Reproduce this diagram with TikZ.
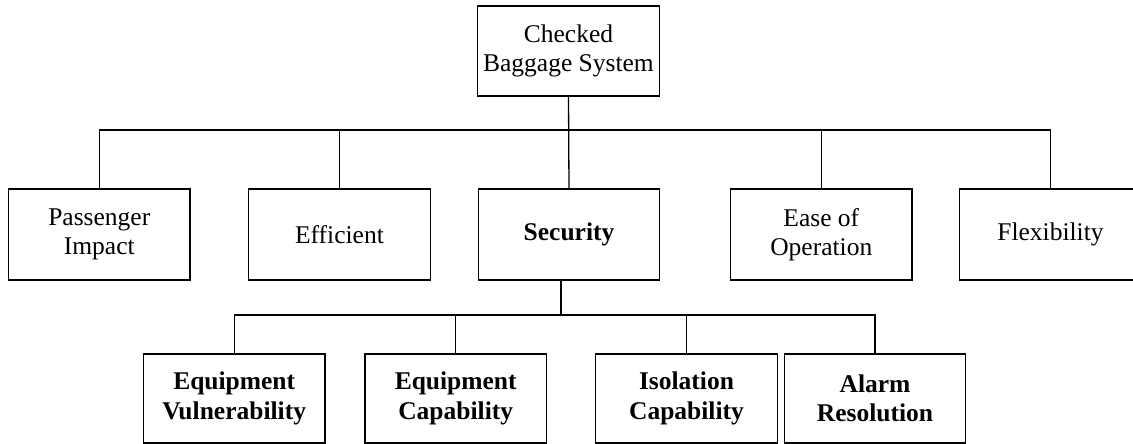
\documentclass[tikz,border=0pt]{standalone}
\usepackage{fontspec}
\setmainfont{Liberation Serif}
\begin{document}
\begin{tikzpicture}[x=1pt,y=-1pt,
  box/.style={draw,line width=1.3pt,rectangle,inner sep=0pt,align=center,
    minimum width=181.5pt,font=\fontsize{25.5}{29.3}\selectfont},
  toprow/.style={box,minimum height=91pt},
  botrow/.style={box,minimum height=89pt,font=\fontsize{25.5}{29.3}\selectfont\bfseries},
  conn/.style={line width=1.3pt}]
\useasboundingbox (0,0) rectangle (1133,444);
\clip (0,0) rectangle (1133,444);
\fill[white] (0,0) rectangle (1133,444);
\node[box,minimum height=90pt] (root) at (568.5,51) {Checked\\Baggage System};
\node[toprow] (pass) at (99.3,234.5) {Passenger\\Impact};
\node[toprow] (eff) at (339.5,234.5) {Efficient};
\node[toprow] (sec) at (569,234.5) {\bfseries Security};
\node[toprow] (ease) at (821.3,234.5) {Ease of\\Operation};
\node[toprow] (flex) at (1050.5,234.5) {Flexibility};
\node[botrow] (vul) at (234.2,398.5) {Equipment\\Vulnerability};
\node[botrow] (cap) at (455.7,398.5) {Equipment\\Capability};
\node[botrow] (iso) at (686.5,398.5) {Isolation\\Capability};
\node[botrow] (alm) at (875,398.5) {Alarm\\Resolution};
\coordinate (b1) at (568.5,130);
\coordinate (s1) at (561,315);
\draw[conn] (root.south) -- (sec.north);
\draw[conn] (pass.north) -- (pass.north |- b1) -- (flex.north |- b1) -- (flex.north);
\draw[conn] (eff.north) -- (eff.north |- b1);
\draw[conn] (ease.north) -- (ease.north |- b1);
\draw[conn] ([xshift=-8pt]sec.south) -- (s1);
\draw[conn] (vul.north) -- (vul.north |- s1) -- (alm.north |- s1) -- (alm.north);
\draw[conn] (cap.north) -- (cap.north |- s1);
\draw[conn] (iso.north) -- (iso.north |- s1);
\end{tikzpicture}
\end{document}
